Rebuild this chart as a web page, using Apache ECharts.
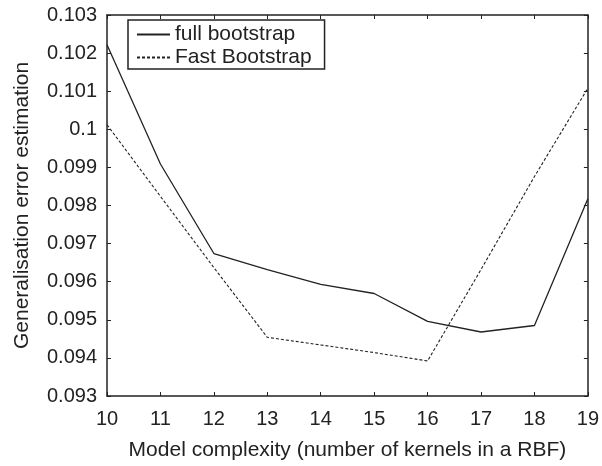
<!DOCTYPE html>
<html>
<head>
<meta charset="utf-8">
<script src="https://cdn.jsdelivr.net/npm/echarts@6/dist/echarts.min.js"></script>
<style>html,body{margin:0;padding:0;background:#fff;}#chart{width:602px;height:466px;}</style>
</head>
<body>
<div id="chart"></div>
<script>
var kernels = [10, 11, 12, 13, 14, 15, 16, 17, 18, 19];
var fullBootstrap = [0.10222, 0.09909, 0.09674, 0.09632, 0.09593, 0.09569, 0.09496, 0.09468, 0.09485, 0.09818];
var fastBootstrap = [0.10012, 0.09824, 0.09637, 0.09454, 0.09434, 0.09414, 0.09392, 0.09632, 0.09876, 0.10108];
var yTickLabels = ['0.093','0.094','0.095','0.096','0.097','0.098','0.099','0.1','0.101','0.102','0.103'];

function pairs(xs, ys) { return xs.map(function (x, i) { return [x, ys[i]]; }); }

var FONT = 'Liberation Sans, Arial, Helvetica, sans-serif';
var INK = '#222';
var chart = echarts.init(document.getElementById('chart'), null, {renderer: 'canvas'});
var axisLine = {show: true, onZero: false, lineStyle: {color: INK, width: 1.5}};
var tick = {show: true, inside: true, length: 4, lineStyle: {color: INK, width: 1}};
chart.setOption({
  animation: false,
  backgroundColor: '#fff',
  grid: {left: 107, right: 13, top: 15, bottom: 69, containLabel: false},
  legend: {
    orient: 'vertical',
    left: 128, top: 20,
    padding: [4, 13, 1, 8],
    itemWidth: 33, itemHeight: 14,
    itemGap: 2,
    itemTextGap: 15,
    borderColor: INK, borderWidth: 1.5,
    backgroundColor: '#fff',
    itemStyle: {opacity: 0},
    textStyle: {fontFamily: FONT, fontSize: 21, color: INK},
    data: ['full bootstrap', 'Fast Bootstrap']
  },
  xAxis: [{
    type: 'value', min: 10, max: 19, interval: 1, position: 'bottom',
    name: 'Model complexity (number of kernels in a RBF)',
    nameLocation: 'middle', nameGap: 44,
    nameTextStyle: {fontFamily: FONT, fontSize: 21, color: INK},
    axisLine: axisLine, axisTick: tick, splitLine: {show: false},
    axisLabel: {fontFamily: FONT, fontSize: 20, color: INK, margin: 13}
  }, {
    type: 'value', min: 10, max: 19, interval: 1, position: 'top',
    axisLine: axisLine, axisTick: tick, splitLine: {show: false},
    axisLabel: {show: false}
  }],
  yAxis: [{
    type: 'value', min: 0.093, max: 0.103, interval: 0.001, position: 'left',
    name: 'Generalisation error estimation',
    nameLocation: 'middle', nameGap: 74, nameRotate: 90,
    nameTextStyle: {fontFamily: FONT, fontSize: 21, color: INK},
    axisLine: axisLine, axisTick: tick, splitLine: {show: false},
    axisLabel: {fontFamily: FONT, fontSize: 20, color: INK, margin: 10,
      formatter: function (v) { var i = Math.round((v - 0.093) / 0.001); return yTickLabels[i]; }}
  }, {
    type: 'value', min: 0.093, max: 0.103, interval: 0.001, position: 'right',
    axisLine: axisLine, axisTick: tick, splitLine: {show: false},
    axisLabel: {show: false}
  }],
  series: [{
    name: 'full bootstrap', type: 'line', symbol: 'none',
    data: pairs(kernels, fullBootstrap),
    lineStyle: {color: INK, width: 1.3, type: 'solid'},
    itemStyle: {color: INK}
  }, {
    name: 'Fast Bootstrap', type: 'line', symbol: 'none',
    data: pairs(kernels, fastBootstrap),
    lineStyle: {color: INK, width: 1.1, type: [3, 2]},
    itemStyle: {color: INK}
  }]
});
</script>
</body>
</html>
